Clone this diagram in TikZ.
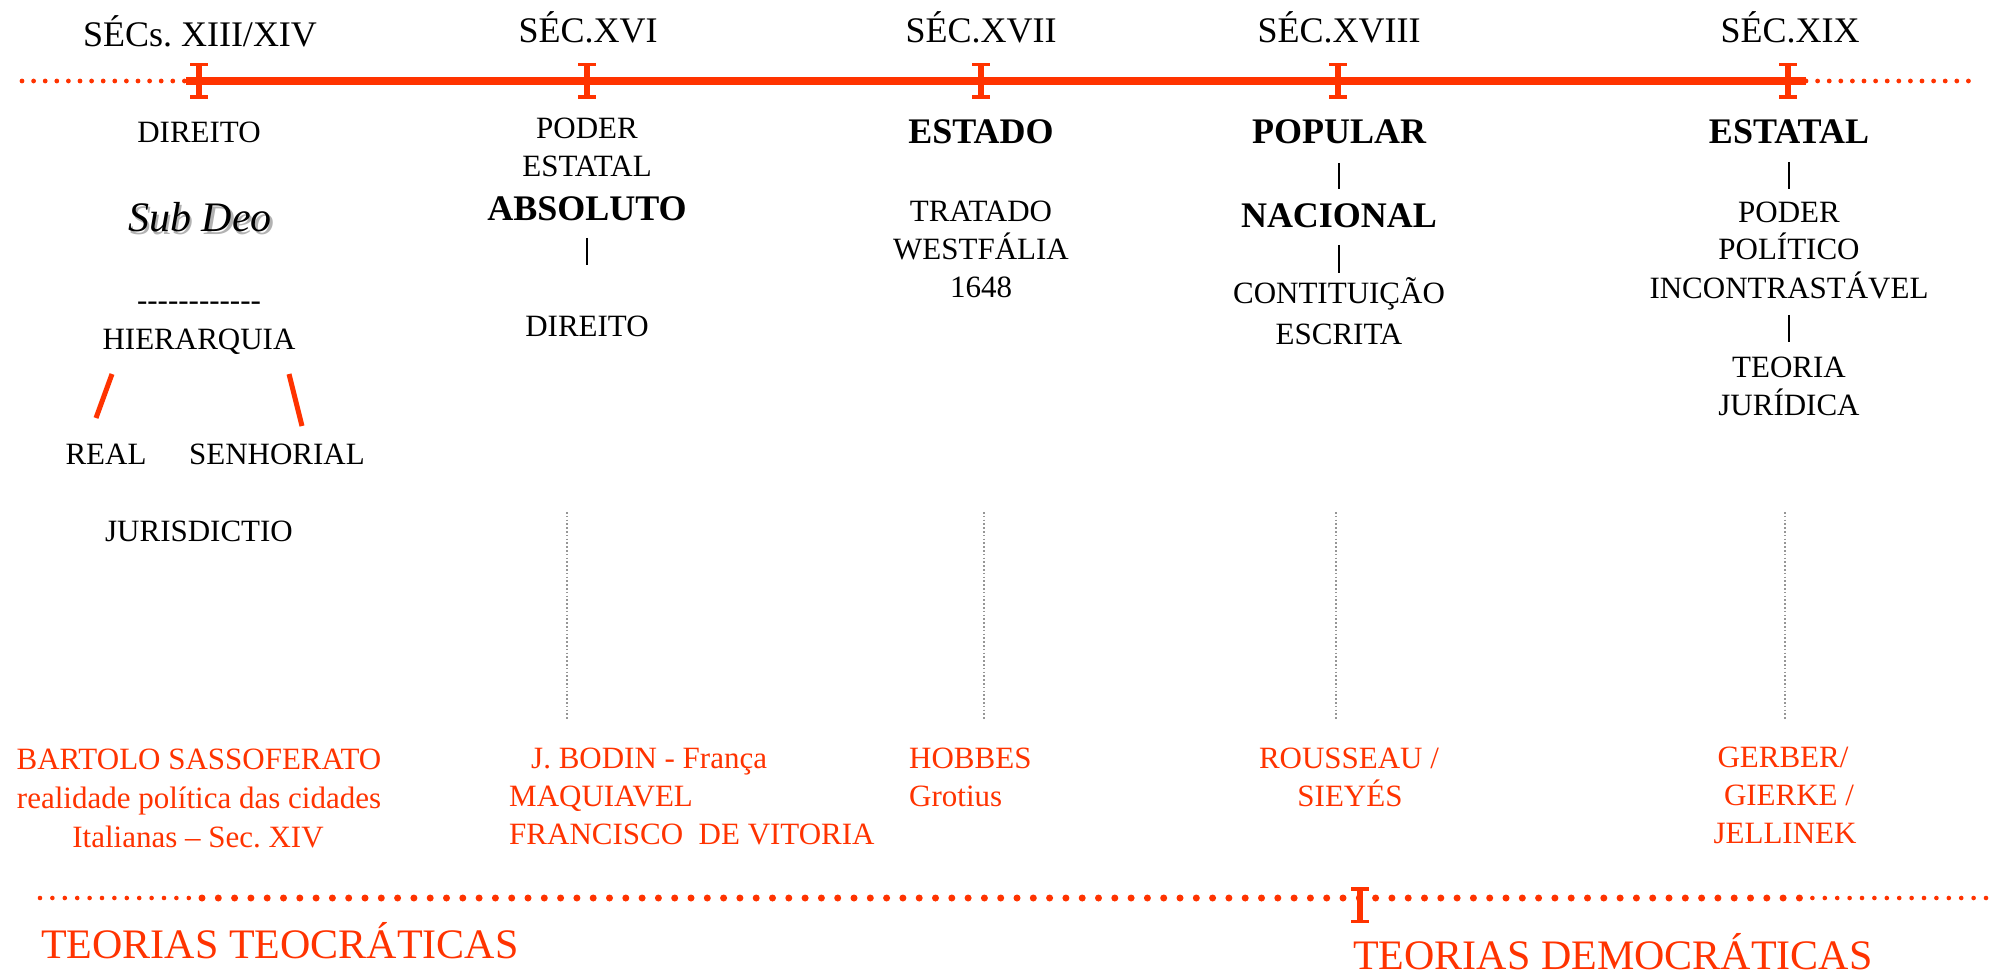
\documentclass[tikz,border=0pt]{standalone}
\usepackage{fontspec}
\setmainfont{Liberation Serif}
\definecolor{tred}{RGB}{255,51,0}
\definecolor{dgray}{RGB}{150,150,150}
\newcommand\hy{\hbox{-}}
\frenchspacing
\begin{document}
\begin{tikzpicture}[x=1pt,y=-1pt,
  txt/.style={anchor=base,inner sep=0pt,font=\fontsize{31}{38}\selectfont},
  txtl/.style={txt,anchor=base west},
  head/.style={anchor=base,inner sep=0pt,font=\fontsize{36}{42}\selectfont},
  bold/.style={anchor=base,inner sep=0pt,font=\fontsize{36}{42}\selectfont\bfseries},
  redt/.style={txt,text=tred},
  redl/.style={txtl,text=tred},
  bigred/.style={anchor=base west,inner sep=0pt,text depth=0pt,text=tred,font=\fontsize{42}{48}\selectfont},
  bar/.style={draw=black,line width=1.2pt},
  slash/.style={draw=tred,line width=5pt},
  solidline/.style={draw=tred,line width=8pt},
  smalldots/.style={draw=tred,line width=4.8pt,line cap=round,dash pattern=on 0pt off 11.6pt},
  smalldotsb/.style={draw=tred,line width=4.6pt,line cap=round,dash pattern=on 0pt off 12.4pt},
  bigdots/.style={draw=tred,line width=7pt,line cap=round,dash pattern=on 0pt off 16.3pt},
  guide/.style={draw=dgray,line width=1.2pt,dash pattern=on 1.6pt off 2.2pt},
  tickI/.pic={
    \fill[tred] (-2.7,-18) rectangle (2.7,18);
    \fill[tred] (-9,-18) rectangle (9,-14.5);
    \fill[tred] (-9,14.5) rectangle (9,18);
  }]
\useasboundingbox (0,0) rectangle (1997,976);
\fill[white] (0,0) rectangle (1997,976);

% ---- main timeline
\coordinate (L0) at (22,81);
\coordinate (L1) at (186,81);
\coordinate (R1) at (1806,81);
\coordinate (R2) at (1972,81);
\draw[smalldots] (L0) -- (L1);
\draw[solidline] (L1) -- (R1);
\draw[smalldots] (R1) -- (R2);
\pic (t1) at (199,81) {tickI};
\pic (t2) at (587,81) {tickI};
\pic (t3) at (981,81) {tickI};
\pic (t4) at (1338,81) {tickI};
\pic (t5) at (1788,81) {tickI};

% ---- century labels
\node[head] (h1) at (200,47) {SÉCs. XIII/XIV};
\node[head] (h2) at (588,43) {SÉC.XVI};
\node[head] (h3) at (981,43) {SÉC.XVII};
\node[head] (h4) at (1339,43) {SÉC.XVIII};
\node[head] (h5) at (1790,43) {SÉC.XIX};

% ---- column 1
\node[txt] (c1a) at (199,143) {DIREITO};
\node[anchor=base,inner sep=0pt,text=black!30,font=\fontsize{42}{48}\selectfont\itshape] (c1bs) at (202.5,235) {Sub Deo};
\node[anchor=base,inner sep=0pt,font=\fontsize{42}{48}\selectfont\itshape] (c1b) at (200,232) {Sub Deo};
\node[txt] (c1c) at (199,311) {\hy\hy\hy\hy\hy\hy\hy\hy\hy\hy\hy\hy};
\node[txt] (c1d) at (199,349) {HIERARQUIA};
\node[txt] (c1e) at (106,464) {REAL};
\node[txt] (c1f) at (277,464) {SENHORIAL};
\node[txt] (c1g) at (199,541) {JURISDICTIO};
\coordinate (s1a) at (112,374); \coordinate (s1b) at (96,418);
\coordinate (s2a) at (289,374); \coordinate (s2b) at (302,426);
\draw[slash] (s1a) -- (s1b);
\draw[slash] (s2a) -- (s2b);

% ---- column 2
\node[txt] (c2a) at (587,139) {PODER};
\node[txt] (c2b) at (587,177) {ESTATAL};
\node[bold] (c2c) at (587,221) {ABSOLUTO};
\coordinate (b2a) at (587,238); \coordinate (b2b) at (587,265);
\draw[bar] (b2a) -- (b2b);
\node[txt] (c2d) at (587,337) {DIREITO};

% ---- column 3
\node[bold] (c3a) at (981,144) {ESTADO};
\node[txt] (c3b) at (981,222) {TRATADO};
\node[txt] (c3c) at (981,260) {WESTFÁLIA};
\node[txt] (c3d) at (981,298) {1648};

% ---- column 4
\node[bold] (c4a) at (1339,144) {POPULAR};
\coordinate (b4a) at (1339,163); \coordinate (b4b) at (1339,189);
\draw[bar] (b4a) -- (b4b);
\node[bold] (c4b) at (1339,228) {NACIONAL};
\coordinate (b4c) at (1339,245); \coordinate (b4d) at (1339,273);
\draw[bar] (b4c) -- (b4d);
\node[txt] (c4c) at (1339,304) {CONTITUIÇÃO};
\node[txt] (c4d) at (1339,344) {ESCRITA};

% ---- column 5
\node[bold] (c5a) at (1789,144) {ESTATAL};
\coordinate (b5a) at (1789,162); \coordinate (b5b) at (1789,189);
\draw[bar] (b5a) -- (b5b);
\node[txt] (c5b) at (1789,223) {PODER};
\node[txt] (c5c) at (1789,260) {POLÍTICO};
\node[txt] (c5d) at (1789,299) {INCONTRASTÁVEL};
\coordinate (b5c) at (1789,315); \coordinate (b5d) at (1789,342);
\draw[bar] (b5c) -- (b5d);
\node[txt] (c5e) at (1789,377) {TEORIA};
\node[txt] (c5f) at (1789,415) {JURÍDICA};

% ---- gray guides
\coordinate (g1a) at (567,512); \coordinate (g1b) at (567,719);
\coordinate (g2a) at (984,512); \coordinate (g2b) at (984,719);
\coordinate (g3a) at (1336,512); \coordinate (g3b) at (1336,719);
\coordinate (g4a) at (1785,512); \coordinate (g4b) at (1785,719);
\draw[guide] (g1a) -- (g1b);
\draw[guide] (g2a) -- (g2b);
\draw[guide] (g3a) -- (g3b);
\draw[guide] (g4a) -- (g4b);

% ---- red authors
\node[redt] (r1a) at (199,769) {BARTOLO SASSOFERATO};
\node[redt] (r1b) at (199,808) {realidade política das cidades};
\node[redt] (r1c) at (198,847) {Italianas – Sec. XIV};
\node[redl] (r2a) at (531,768) {J. BODIN - França};
\node[redl] (r2b) at (509,806) {MAQUIAVEL};
\node[redl] (r2c) at (509,844) {FRANCISCO\ \ DE VITORIA};
\node[redl] (r3a) at (909,768) {HOBBES};
\node[redl] (r3b) at (909,806) {Grotius};
\node[redt] (r4a) at (1349,768) {ROUSSEAU /};
\node[redt] (r4b) at (1350,806) {SIEYÉS};
\node[redt] (r5a) at (1783,767) {GERBER/};
\node[redt] (r5b) at (1789,805) {GIERKE /};
\node[redt] (r5c) at (1785,843) {JELLINEK};

% ---- bottom line
\coordinate (B0) at (40,898);
\coordinate (B1) at (202,898);
\coordinate (B2) at (1800,898);
\coordinate (B3) at (1987,898);
\draw[smalldotsb] (B0) -- (B1);
\draw[bigdots] (B1) -- (B2);
\draw[smalldotsb] (B2) -- (B3);
\pic (tb) at (1360,905) {tickI};

\node[bigred] (tt) at (41,958) {TEORIAS TEOCRÁTICAS};
\node[bigred] (td) at (1353,969) {TEORIAS DEMOCRÁTICAS};
\end{tikzpicture}
\end{document}
